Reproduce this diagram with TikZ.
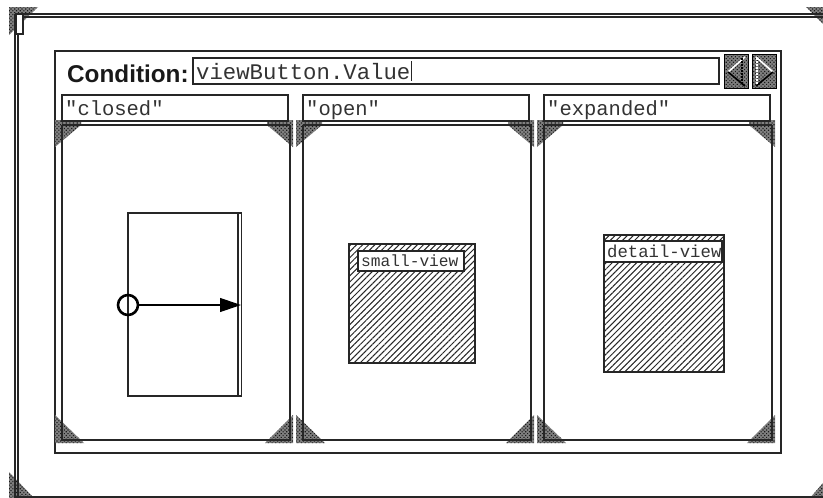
\documentclass[tikz,border=0pt]{standalone}
\usepackage{fontspec}
\setmainfont{Liberation Sans}
\newfontfamily\pixmono{Liberation Mono}
\usetikzlibrary{patterns.meta,arrows.meta}
\tikzset{
  x=1pt,y=-1pt,
  ln/.style={draw=black!85,line width=1.3pt},
  dither/.style={preaction={fill=black!50},pattern={Dots[distance=2.6pt,radius=0.8pt,angle=45]},pattern color=black!90},
  hatch/.style={pattern={Lines[angle=45,distance=4.3pt,line width=1pt]},pattern color=black!85},
  mono/.style={font=\pixmono\fontsize{#1}{#1}\selectfont,text=black!80,inner sep=0pt,anchor=base west},
  whitebox/.style={ln,fill=white}
}
\newcommand{\subpanel}[3]{%
  \begin{scope}[xshift=#1pt]
    \path[dither] (55,120) -- (81,120) -- (81,125) -- (55,147) -- cycle;
    \path[dither] (267,120) -- (293,120) -- (293,147) -- (267,125) -- cycle;
    \path[dither] (55,415) -- (84,443) -- (55,443) -- cycle;
    \path[dither] (293,415) -- (293,443) -- (265,443) -- cycle;
    \draw[ln] (62,95) rectangle (288,121);
    \draw[ln] (62,125) -- (62,440) -- (290,440) -- (290,125);
    \draw[ln] (62,125) -- (290,125);
    \node[mono=20.5] (#3) at (65,115.5) {#2};
  \end{scope}}
\begin{document}
\begin{tikzpicture}
\useasboundingbox (0,0) rectangle (823,498);
\fill[white] (0,0) rectangle (823,498);
% outer frame corners
\path[dither] (9,7) -- (38,7) -- (9,35) -- cycle;
\path[dither] (806,7) -- (823,7) -- (823,24) -- cycle;
\path[dither] (9,472) -- (34,498) -- (9,498) -- cycle;
\path[dither] (810,498) -- (823,483) -- (823,498) -- cycle;
% outer frame
\draw[ln] (15,14) -- (823,14);
\draw[ln] (23,17) -- (823,17);
\draw[ln] (15,14) -- (15,497) -- (823,497);
\draw[ln] (18,34) -- (18,497);
\draw[ln,fill=white] (16,14) rectangle (23,34);
% main panel
\draw[ln] (55,51) rectangle (781,453);
\node[font=\bfseries\fontsize{24.3}{24.3}\selectfont,inner sep=0pt,anchor=base west,text=black!90] (cond) at (67,82) {Condition:};
\draw[ln] (193,58) rectangle (719,84);
\node[mono=22.3] (value) at (196,79) {viewButton.Value};
\draw[line width=1pt,black!85] (411,61) -- (411,81);
% buttons
\path[dither] (724,54) rectangle (748,88);
\path[dither] (752,54) rectangle (776,88);
\draw[black,line width=1pt] (724,54) rectangle (748,88);
\draw[black,line width=1pt] (752,54) rectangle (776,88);
\draw[white,line width=1.6pt] (745,57) -- (728,72);
\draw[black,line width=1.6pt] (728,72) -- (745,86);
\draw[black,line width=1.2pt,dash pattern=on 2pt off 1pt] (742,58) -- (742,85);
\draw[white,line width=1.6pt] (756,57) -- (773,72);
\draw[black,line width=1.6pt] (773,72) -- (756,86);
\draw[white,line width=1.2pt,dash pattern=on 2pt off 1pt] (757,58) -- (757,85);
% sub panels
\subpanel{0}{"closed"}{lclosed}
\subpanel{241}{"open"}{lopen}
\subpanel{482}{"expanded"}{lexpanded}
% closed content
\draw[ln] (128,213) rectangle (241.5,396);
\draw[ln] (238,213) -- (238,396);
\node[circle,draw=black,line width=2.6pt,minimum size=20pt,inner sep=0pt] (port) at (128,305) {};
\coordinate (target) at (241,305);
\draw[draw=black,line width=1.2pt,-{Triangle[length=21pt,width=14pt,fill=black]}] (port) -- (target);
% small view
\fill[white] (349,244) rectangle (475,363);
\fill[hatch] (349,244) rectangle (475,363);
\draw[ln] (349,244) rectangle (475,363);
\draw[whitebox] (358,251) rectangle (464,271);
\node[mono=16.2] (small) at (361,266) {small-view};
% detail view
\fill[white] (604,235) rectangle (724,372);
\fill[hatch] (604,235) rectangle (724,372);
\draw[ln] (604,235) rectangle (724,372);
\draw[whitebox] (604,241) rectangle (722,262);
\node[mono=17.3] (detail) at (607,257) {detail-view};
\end{tikzpicture}
\end{document}
